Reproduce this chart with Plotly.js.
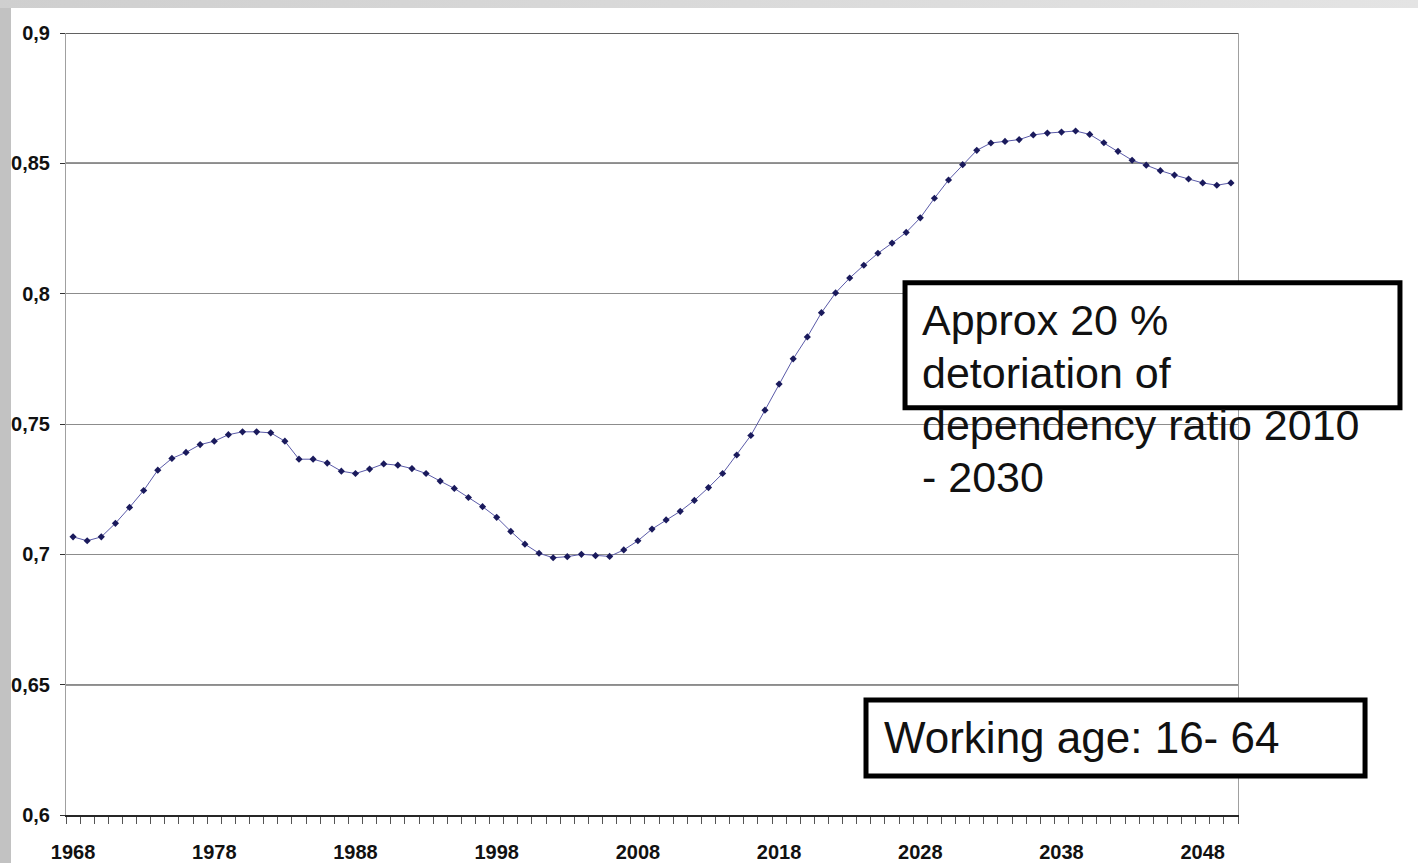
<!DOCTYPE html>
<html>
<head>
<meta charset="utf-8">
<script src="https://cdn.plot.ly/plotly-3.0.1.min.js"></script>
<style>
  html, body { margin: 0; padding: 0; width: 1418px; height: 863px; overflow: hidden; background: #c2c2c2; }
  #topstrip { position: absolute; left: 0; top: 0; width: 1418px; height: 8px; background: linear-gradient(to right, #cfcfcf, #e4e4e4); }
  #chart { position: absolute; left: 11px; top: 8px; width: 1407px; height: 855px; background: #ffffff; }
</style>
</head>
<body>
<div id="topstrip"></div>
<div id="chart"></div>
<script>
// ---- data ----
const years = [1968,1969,1970,1971,1972,1973,1974,1975,1976,1977,
               1978,1979,1980,1981,1982,1983,1984,1985,1986,1987,
               1988,1989,1990,1991,1992,1993,1994,1995,1996,1997,
               1998,1999,2000,2001,2002,2003,2004,2005,2006,2007,
               2008,2009,2010,2011,2012,2013,2014,2015,2016,2017,
               2018,2019,2020,2021,2022,2023,2024,2025,2026,2027,
               2028,2029,2030,2031,2032,2033,2034,2035,2036,2037,
               2038,2039,2040,2041,2042,2043,2044,2045,2046,2047,
               2048,2049,2050];
const dependencyRatio = [0.7067,0.7052,0.7067,0.7119,0.7180,0.7245,0.7323,0.7368,0.7391,0.7421,
                         0.7434,0.7459,0.7470,0.7470,0.7466,0.7434,0.7365,0.7365,0.7350,0.7319,
                         0.7310,0.7327,0.7347,0.7342,0.7329,0.7310,0.7281,0.7253,0.7218,0.7183,
                         0.7142,0.7088,0.7039,0.7004,0.6987,0.6991,0.7000,0.6995,0.6992,0.7017,
                         0.7052,0.7097,0.7132,0.7165,0.7207,0.7256,0.7310,0.7381,0.7456,0.7553,
                         0.7653,0.7750,0.7834,0.7927,0.8003,0.8060,0.8109,0.8155,0.8194,0.8235,
                         0.8291,0.8366,0.8436,0.8495,0.8550,0.8578,0.8584,0.8591,0.8609,0.8616,
                         0.8620,0.8624,0.8611,0.8579,0.8546,0.8512,0.8493,0.8472,0.8455,0.8440,
                         0.8425,0.8416,0.8425];
const xTickVals = [1968,1978,1988,1998,2008,2018,2028,2038,2048];
const xTickText = ['1968','1978','1988','1998','2008','2018','2028','2038','2048'];
const yTickVals = [0.6,0.65,0.7,0.75,0.8,0.85,0.9];
const yTickText = ['0,6','0,65','0,7','0,75','0,8','0,85','0,9'];
const darkGridVals = [0.65,0.85,0.9];
const noteLines = ['Approx 20 %','detoriation of','dependency ratio 2010','- 2030'];
const noteWorking = 'Working age: 16- 64';

// ---- layout / styling ----
const tickFont = {family: 'Liberation Sans, Arial, sans-serif', size: 20, color: '#111111', weight: 'bold'};
const noteFont = {family: 'Liberation Sans, Arial, sans-serif', size: 43, color: '#111111'};

const trace = {
  x: years, y: dependencyRatio, type: 'scatter', mode: 'lines+markers',
  line: {color: '#5a5aa8', width: 1},
  marker: {symbol: 'diamond', size: 5.5, color: '#1a1a5c'},
  hoverinfo: 'x+y'
};

const shapes = darkGridVals.map(v => ({
  type: 'line', xref: 'paper', yref: 'y', x0: 0, x1: 1, y0: v, y1: v,
  line: {color: '#2e2e2e', width: 1.5}, layer: 'between'
}));
shapes.push({type: 'rect', xref: 'paper', yref: 'paper', x0: 0.7159, x1: 1.1382, y0: 0.5207, y1: 0.6806,
  fillcolor: '#ffffff', line: {color: '#000000', width: 5}, layer: 'above'});
shapes.push({type: 'rect', xref: 'paper', yref: 'paper', x0: 0.6826, x1: 1.1084, y0: 0.0499, y1: 0.1471,
  fillcolor: '#ffffff', line: {color: '#000000', width: 5}, layer: 'above'});

const lineY = [0.6332, 0.5654, 0.4989, 0.4324];
const annotations = noteLines.map((t, i) => ({
  text: t, xref: 'paper', yref: 'paper', x: 0.7295, y: lineY[i], xanchor: 'left', yanchor: 'middle',
  showarrow: false, align: 'left', font: noteFont, borderpad: 0
}));
annotations.push({text: noteWorking, xref: 'paper', yref: 'paper', x: 0.6971, y: 0.0985,
  xanchor: 'left', yanchor: 'middle', showarrow: false, align: 'left',
  font: Object.assign({}, noteFont, {size: 44}), borderpad: 0});

const layout = {
  width: 1407, height: 855,
  margin: {l: 55, r: 180, t: 25, b: 48, pad: 0},
  paper_bgcolor: '#ffffff', plot_bgcolor: '#ffffff',
  showlegend: false,
  xaxis: {
    type: 'linear', range: [1967.5, 2050.5], fixedrange: true,
    tickmode: 'array', tickvals: xTickVals, ticktext: xTickText,
    ticks: '', showgrid: false, zeroline: false,
    showline: true, linecolor: '#262626', linewidth: 2, mirror: false,
    tickfont: tickFont, ticklabelstandoff: 18,
    minor: {tick0: 1967.5, dtick: 1, ticks: 'outside', ticklen: 7, tickcolor: '#555555', tickwidth: 1, showgrid: false}
  },
  yaxis: {
    range: [0.6, 0.9], fixedrange: true,
    tickmode: 'array', tickvals: yTickVals, ticktext: yTickText,
    ticks: 'outside', ticklen: 5, tickcolor: '#333333', tickwidth: 1,
    showgrid: true, gridcolor: '#8c8c8c', gridwidth: 1, zeroline: false,
    showline: true, linecolor: '#a0a0a0', linewidth: 1, mirror: true,
    tickfont: tickFont, ticklabelstandoff: 6
  },
  shapes: shapes,
  annotations: annotations
};

Plotly.newPlot('chart', [trace], layout, {displayModeBar: false, staticPlot: true});
</script>
</body>
</html>
